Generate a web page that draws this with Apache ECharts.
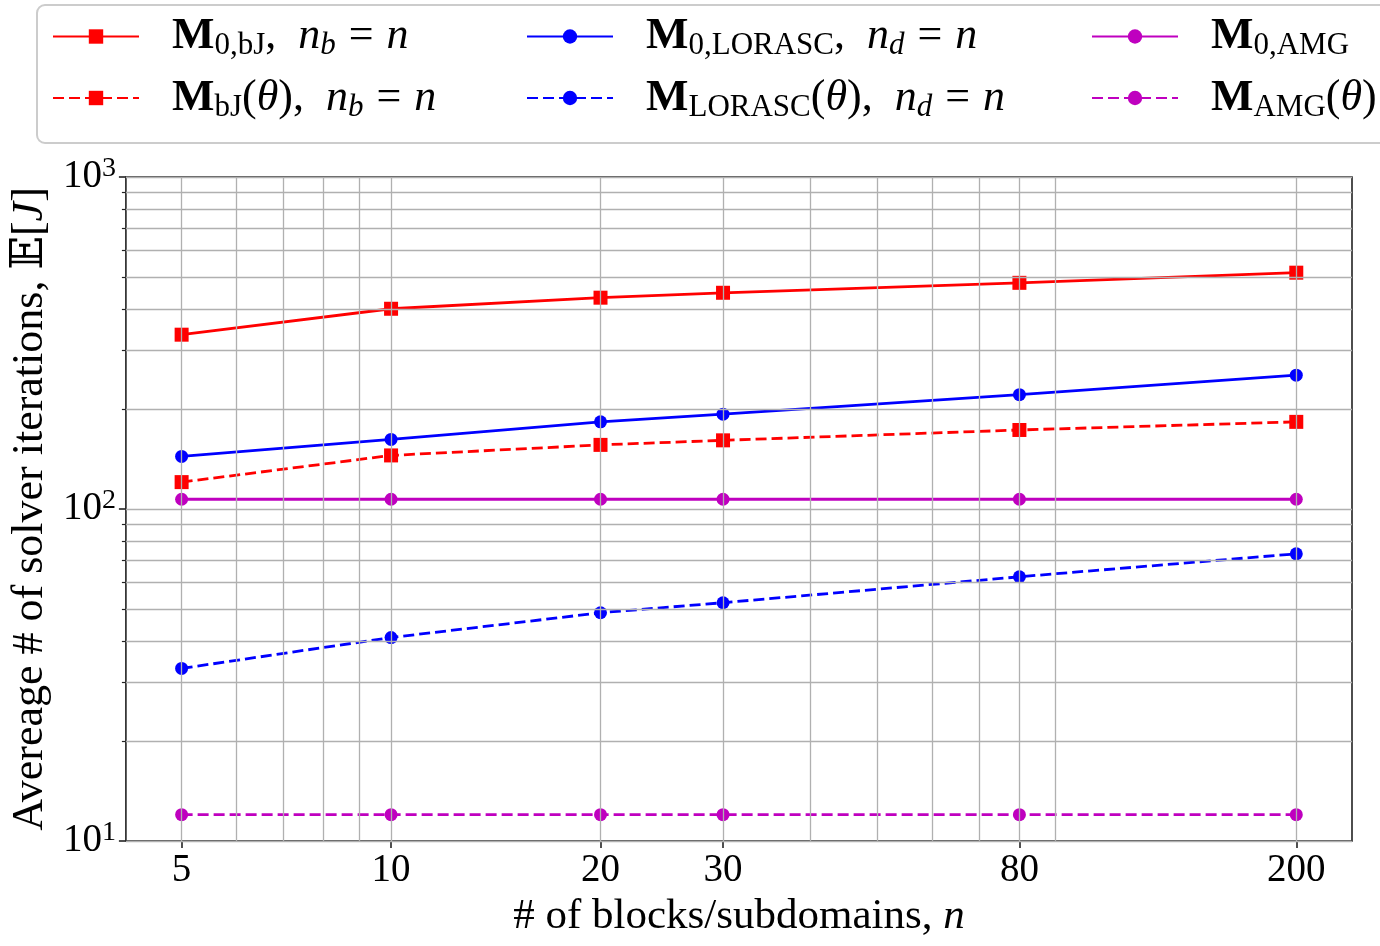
<!DOCTYPE html>
<html>
<head>
<meta charset="utf-8">
<script src="https://cdn.jsdelivr.net/npm/echarts@6/dist/echarts.min.js"></script>
<style>html,body{margin:0;padding:0;background:#fff}#c{width:1380px;height:946px}</style>
</head>
<body>
<div id="c"></div>
<script>
// ---- data ----
var xValues = [5, 10, 20, 30, 80, 200];
var bj0 = [335, 401, 433, 448, 480, 515];
var bjTheta = [120.5, 145, 156, 161, 173, 183];
var lorasc0 = [144, 162, 183, 193, 221, 253];
var lorascTheta = [33.1, 41, 48.7, 52.2, 62.5, 73.3];
var amg0 = [107, 107, 107, 107, 107, 107];
var amgTheta = [12, 12, 12, 12, 12, 12];
var xTickLabels = [5, 10, 20, 30, 80, 200];
var yTickLabels = [10, 100, 1000];
var yMinorTicks = [20, 30, 40, 50, 60, 70, 80, 90, 200, 300, 400, 500, 600, 700, 800, 900];
var xGridValues = [5, 6, 7, 8, 9, 10, 20, 30, 40, 50, 60, 70, 80, 90, 200];
var yGridValues = [10, 20, 30, 40, 50, 60, 70, 80, 90, 100, 200, 300, 400, 500, 600, 700, 800, 900, 1000];
var seriesNames = ['M0,bJ, nb = n', 'MbJ(θ), nb = n', 'M0,LORASC, nd = n', 'MLORASC(θ), nd = n', 'M0,AMG', 'MAMG(θ)'];
var legendRich = {
  'M0,bJ, nb = n': '{sp| }{b|M}{s|0,bJ}{r|,  }{i|n}{si|b}{eq|=}{i|n}',
  'MbJ(θ), nb = n': '{sp| }{b|M}{s|bJ}{r|(}{i|θ}{r|),  }{i|n}{si|b}{eq|=}{i|n}',
  'M0,LORASC, nd = n': '{sp| }{b|M}{s|0,LORASC}{r|,  }{i|n}{si|d}{eq|=}{i|n}',
  'MLORASC(θ), nd = n': '{sp| }{b|M}{s|LORASC}{r|(}{i|θ}{r|),  }{i|n}{si|d}{eq|=}{i|n}',
  'M0,AMG': '{sp| }{b|M}{s|0,AMG}',
  'MAMG(θ)': '{sp| }{b|M}{s|AMG}{r|(}{i|θ}{r|)}'
};

var FONT = '"Liberation Serif", "DejaVu Serif", serif';
var RED = '#ff0000', BLUE = '#0000ff', MAG = '#bf00bf';
var DASH = [11, 5];

function pairs(ys) { return xValues.map(function (x, i) { return [x, ys[i]]; }); }

function mkSeries(name, ys, color, dashed, symbol, size) {
  return {
    name: name, type: 'line', data: pairs(ys), z: 3,
    symbol: symbol, symbolSize: size, showSymbol: true,
    itemStyle: { color: color },
    lineStyle: { color: color, width: 2.8, type: dashed ? DASH : 'solid' },
    animation: false
  };
}

var rich = {
  sp: { width: 28, fontSize: 44, lineHeight: 50 },
  b: { fontFamily: FONT, fontSize: 45, fontWeight: 'bold', color: '#000', lineHeight: 50 },
  r: { fontFamily: FONT, fontSize: 44, color: '#000', lineHeight: 50 },
  eq: { fontFamily: FONT, fontSize: 44, color: '#000', lineHeight: 50, padding: [0, 13, 0, 13] },
  i: { fontFamily: FONT, fontSize: 44, fontStyle: 'italic', color: '#000', lineHeight: 50 },
  s: { fontFamily: FONT, fontSize: 31, color: '#000', lineHeight: 30, verticalAlign: 'bottom' },
  si: { fontFamily: FONT, fontSize: 31, fontStyle: 'italic', color: '#000', lineHeight: 30, verticalAlign: 'bottom' }
};

function mkLegend(names, left) {
  return {
    data: names, orient: 'vertical', left: left, top: 14, padding: 0,
    itemWidth: 86, itemHeight: 18, itemGap: 14,
    selectedMode: false,
    formatter: function (n) { return legendRich[n]; },
    textStyle: { fontFamily: FONT, fontSize: 44, color: '#000', rich: rich }
  };
}

var gridMarks = [];
xGridValues.forEach(function (v) { gridMarks.push({ xAxis: v }); });
yGridValues.forEach(function (v) { gridMarks.push({ yAxis: v }); });

var chart = echarts.init(document.getElementById('c'), null, { renderer: 'canvas' });
chart.setOption({
  animation: false,
  backgroundColor: '#fff',
  textStyle: { fontFamily: FONT },
  graphic: [{
    type: 'rect', z: 0, silent: true,
    shape: { x: 37, y: 5, width: 1380, height: 138, r: 8 },
    style: { fill: '#fff', stroke: '#cccccc', lineWidth: 2 }
  }],
  legend: [
    mkLegend([seriesNames[0], seriesNames[1]], 52),
    mkLegend([seriesNames[2], seriesNames[3]], 526),
    mkLegend([seriesNames[4], seriesNames[5]], 1091)
  ],
  grid: {
    left: 123, right: 28, top: 177, bottom: 105,
    show: true, borderColor: '#222', borderWidth: 1.6, backgroundColor: 'transparent',
    containLabel: false
  },
  xAxis: [{
    type: 'log', logBase: 10, min: 4.158, max: 240.5,
    axisLine: { show: false },
    axisTick: { show: true, customValues: xTickLabels, length: 7, lineStyle: { color: '#222', width: 1.6 } },
    axisLabel: { customValues: xTickLabels, fontFamily: FONT, fontSize: 39, color: '#000', margin: 10,
      formatter: function (v) { return String(Math.round(v)); } },
    splitLine: { show: false },
    name: '# of blocks/subdomains, {i|n}', nameLocation: 'middle', nameGap: 53,
    nameTextStyle: { fontFamily: FONT, fontSize: 43, color: '#000',
      rich: { i: { fontFamily: FONT, fontSize: 43, fontStyle: 'italic', color: '#000' } } }
  }],
  yAxis: [{
    type: 'log', logBase: 10, min: 10, max: 1000,
    axisLine: { show: false },
    axisTick: { show: true, customValues: yTickLabels, length: 7, lineStyle: { color: '#222', width: 1.6 } },
    axisLabel: { customValues: yTickLabels, margin: 10, color: '#000',
      formatter: function (v) { var e = Math.round(Math.log10(v)); return '{m|10}{sup|' + e + '}'; },
      rich: {
        m: { fontFamily: FONT, fontSize: 39, color: '#000', lineHeight: 44 },
        sup: { fontFamily: FONT, fontSize: 28, color: '#000', lineHeight: 27, verticalAlign: 'top' }
      }
    },
    splitLine: { show: false },
    name: 'Avereage # of solver iterations, 𝔼[{i|J}]', nameLocation: 'middle', nameGap: 72,
    nameTextStyle: { fontFamily: FONT, fontSize: 44, color: '#000',
      rich: { i: { fontFamily: FONT, fontSize: 44, fontStyle: 'italic', color: '#000' } } }
  }, {
    type: 'log', logBase: 10, min: 10, max: 1000, position: 'left',
    axisLine: { show: false },
    axisTick: { show: true, customValues: yMinorTicks, length: 4, lineStyle: { color: '#222', width: 1.2 } },
    axisLabel: { show: false },
    splitLine: { show: false }
  }],
  series: [
    {
      name: 'grid', type: 'line', data: [], z: 1, silent: true,
      markLine: {
        silent: true, symbol: ['none', 'none'], animation: false,
        label: { show: false },
        lineStyle: { color: '#b0b0b0', width: 1.3, type: 'solid' },
        emphasis: { disabled: true },
        data: gridMarks
      }
    },
    mkSeries(seriesNames[0], bj0, RED, false, 'rect', 14),
    mkSeries(seriesNames[1], bjTheta, RED, true, 'rect', 14),
    mkSeries(seriesNames[2], lorasc0, BLUE, false, 'circle', 13),
    mkSeries(seriesNames[3], lorascTheta, BLUE, true, 'circle', 13),
    mkSeries(seriesNames[4], amg0, MAG, false, 'circle', 13),
    mkSeries(seriesNames[5], amgTheta, MAG, true, 'circle', 13)
  ]
});
</script>
</body>
</html>
